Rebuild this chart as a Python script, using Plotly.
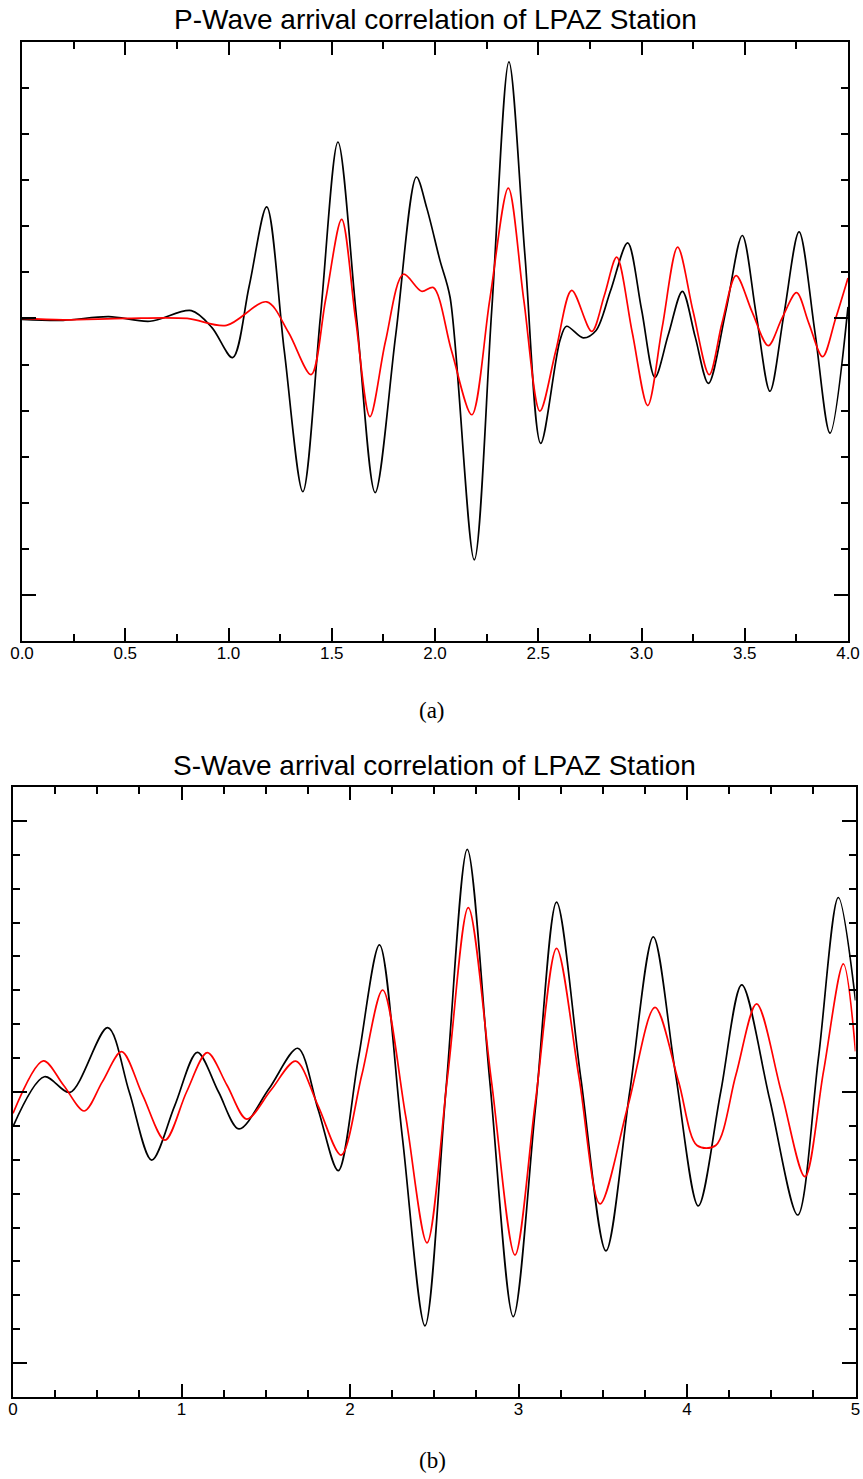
import plotly.graph_objects as go

W, H = 863, 1479

# ---- P-wave panel (time in s, amplitude in tick units) ----
p_obs_t = [0.00, 0.20, 0.42, 0.62, 0.82, 0.92, 1.02, 1.10, 1.185, 1.27, 1.36, 1.445, 1.53, 1.62,
           1.71, 1.81, 1.91, 1.96, 2.024, 2.073, 2.19, 2.275, 2.358, 2.435, 2.512, 2.605, 2.637,
           2.718, 2.78, 2.85, 2.933, 3.00, 3.065, 3.13, 3.198, 3.26, 3.324, 3.41, 3.488, 3.555,
           3.622, 3.69, 3.763, 3.84, 3.913, 4.00]
p_obs_v = [-0.02, -0.04, 0.04, -0.06, 0.17, -0.20, -0.85, 0.70, 2.42, -0.70, -3.76, 0.03, 3.83, 0.02,
           -3.78, -0.35, 3.07, 2.40, 1.26, 0.46, -5.24, 0.20, 5.57, 1.40, -2.71, -0.48, -0.17,
           -0.42, -0.26, 0.60, 1.64, 0.20, -1.28, -0.35, 0.59, -0.40, -1.41, 0.20, 1.80, 0.10,
           -1.58, 0.10, 1.88, -0.30, -2.49, 0.25]

p_syn_t = [0.00, 0.20, 0.50, 0.80, 0.99, 1.185, 1.29, 1.40, 1.47, 1.548, 1.615, 1.685, 1.76, 1.847,
           1.935, 1.992, 2.08, 2.178, 2.265, 2.355, 2.43, 2.508, 2.585, 2.662, 2.759, 2.82, 2.88,
           2.955, 3.03, 3.10, 3.175, 3.25, 3.328, 3.39, 3.458, 3.535, 3.614, 3.68, 3.751, 3.81,
           3.877, 3.94, 4.00]
p_syn_v = [0.00, -0.03, 0.00, 0.00, -0.15, 0.36, -0.30, -1.22, 0.40, 2.15, 0.00, -2.13, -0.50, 0.96,
           0.59, 0.67, -0.70, -2.09, 0.40, 2.83, 0.40, -2.01, -0.70, 0.61, -0.28, 0.50, 1.33,
           -0.30, -1.89, -0.20, 1.55, 0.15, -1.22, -0.10, 0.93, 0.15, -0.59, 0.00, 0.56, -0.10,
           -0.83, 0.00, 0.88]

# ---- S-wave panel ----
s_obs_t = [0.00, 0.186, 0.338, 0.562, 0.69, 0.823, 0.96, 1.094, 1.22, 1.341, 1.52, 1.69, 1.81, 1.93,
           2.05, 2.175, 2.31, 2.445, 2.57, 2.696, 2.83, 2.969, 3.10, 3.226, 3.37, 3.519, 3.66,
           3.80, 3.93, 4.067, 4.20, 4.325, 4.49, 4.657, 4.78, 4.898, 5.00]
s_obs_v = [-1.02, 0.45, -0.01, 1.90, 0.00, -2.01, -0.40, 1.17, 0.00, -1.09, 0.10, 1.29, -0.50, -2.32,
           1.00, 4.34, -1.30, -6.90, 0.10, 7.16, 0.30, -6.63, -0.50, 5.60, 0.40, -4.69, 0.00,
           4.58, 0.60, -3.36, 0.00, 3.16, -0.20, -3.63, 1.00, 5.74, 2.70]

s_syn_t = [0.00, 0.18, 0.30, 0.423, 0.53, 0.645, 0.77, 0.902, 1.03, 1.153, 1.27, 1.387, 1.53, 1.678,
           1.81, 1.947, 2.07, 2.194, 2.33, 2.457, 2.58, 2.702, 2.84, 2.979, 3.10, 3.226, 3.36,
           3.484, 3.65, 3.81, 3.95, 4.06, 4.17, 4.29, 4.413, 4.56, 4.70, 4.81, 4.928, 5.00]
s_syn_v = [-0.63, 0.92, 0.20, -0.56, 0.30, 1.19, -0.10, -1.42, 0.00, 1.16, 0.20, -0.80, 0.05, 0.91,
           -0.40, -1.86, 0.50, 3.01, -0.70, -4.45, 0.50, 5.44, 0.30, -4.81, -0.30, 4.24, 0.40,
           -3.30, -0.40, 2.50, 0.30, -1.58, -1.58, 0.50, 2.60, 0.00, -2.50, 0.60, 3.78, 1.20]

p_ticks = ["0.0", "0.5", "1.0", "1.5", "2.0", "2.5", "3.0", "3.5", "4.0"]
s_ticks = ["0", "1", "2", "3", "4", "5"]


def fx(px):
    return px / W


def fy(py):
    return 1 - py / H


fig = go.Figure()
line_kw = dict(shape="spline", smoothing=0.9)
fig.add_trace(go.Scatter(x=p_obs_t, y=p_obs_v, mode="lines", xaxis="x", yaxis="y",
                         line=dict(color="black", width=1.7, **line_kw)))
fig.add_trace(go.Scatter(x=p_syn_t, y=p_syn_v, mode="lines", xaxis="x", yaxis="y",
                         line=dict(color="#ff0000", width=1.7, **line_kw)))
fig.add_trace(go.Scatter(x=s_obs_t, y=s_obs_v, mode="lines", xaxis="x2", yaxis="y2",
                         line=dict(color="black", width=1.7, **line_kw)))
fig.add_trace(go.Scatter(x=s_syn_t, y=s_syn_v, mode="lines", xaxis="x2", yaxis="y2",
                         line=dict(color="#ff0000", width=1.7, **line_kw)))

frame = dict(showline=True, linecolor="black", linewidth=1.5, mirror="ticks", showgrid=False,
             zeroline=False, ticks="inside", tickcolor="black", tickwidth=1.5, automargin=False)
minor_kw = dict(tick0=0, ticklen=7, ticks="inside", tickcolor="black", tickwidth=1.5)
tickfont = dict(family="Liberation Sans, Arial, sans-serif", size=17, color="black")

fig.update_layout(
    width=W, height=H, margin=dict(l=0, r=0, t=0, b=0, autoexpand=False),
    paper_bgcolor="white", plot_bgcolor="white", showlegend=False,
    xaxis=dict(domain=[fx(22), fx(848)], range=[0, 4], anchor="y",
               tickvals=[i * 0.5 for i in range(len(p_ticks))], ticktext=p_ticks, ticklen=13,
               minor=dict(dtick=0.25, **minor_kw), ticklabelstandoff=-4,
               tickfont=tickfont, **frame),
    yaxis=dict(domain=[fy(641), fy(42)], range=[-7, 6], anchor="x",
               tick0=0, dtick=6, ticklen=14, showticklabels=False,
               minor=dict(dtick=1, **minor_kw), **frame),
    xaxis2=dict(domain=[fx(13), fx(855.5)], range=[0, 5], anchor="y2",
                tickvals=list(range(len(s_ticks))), ticktext=s_ticks, ticklen=13,
                minor=dict(dtick=0.25, **minor_kw), ticklabelstandoff=-4,
                tickfont=tickfont, **frame),
    yaxis2=dict(domain=[fy(1397), fy(787)], range=[-9, 9], anchor="x2",
                tick0=0, dtick=8, ticklen=14, showticklabels=False,
                minor=dict(dtick=1, **minor_kw), **frame),
)

title_font = dict(family="Liberation Sans, Arial, sans-serif", size=28, color="black")
cap_font = dict(family="Liberation Serif, DejaVu Serif, serif", size=23, color="black")
ann = dict(xref="paper", yref="paper", showarrow=False, xanchor="center", yanchor="middle")
fig.add_annotation(text="P-Wave arrival correlation of LPAZ Station", x=fx(435), y=fy(20),
                   font=title_font, **ann)
fig.add_annotation(text="S-Wave arrival correlation of LPAZ Station", x=fx(434), y=fy(765),
                   font=title_font, **ann)
fig.add_annotation(text="(a)", x=fx(432), y=fy(710), font=cap_font, **ann)
fig.add_annotation(text="(b)", x=fx(432), y=fy(1460), font=cap_font, **ann)

fig.write_html("out.html")
